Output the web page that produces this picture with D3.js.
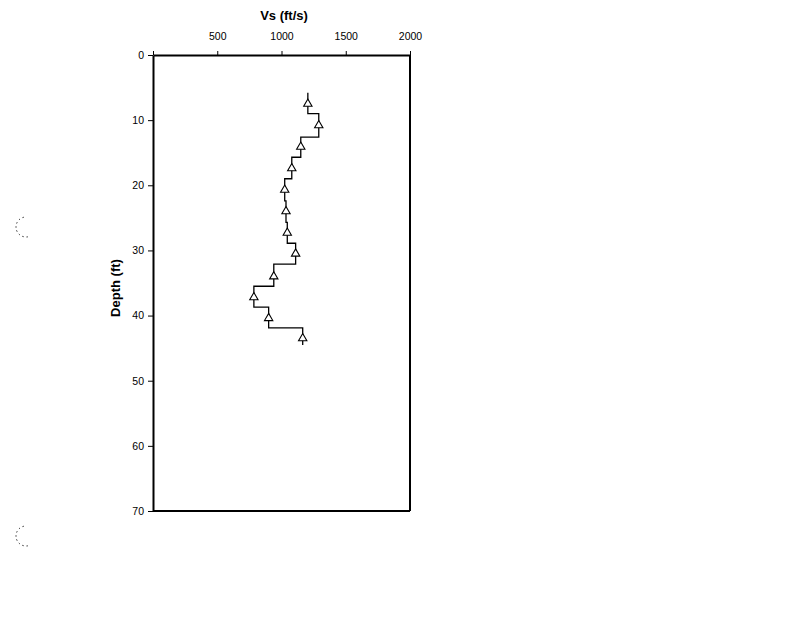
<!DOCTYPE html>
<html lang="en">
<head>
<meta charset="UTF-8">
<script src="https://d3js.org/d3.v7.min.js"></script>
<title>Vs profile</title>
<style>
  body { margin: 0; background: #fff; }
  svg text { font-family: "Liberation Sans", Arial, sans-serif; fill: #000; }
</style>
</head>
<body>
<div id="chart"></div>
<script>
// layer tops (ft) and shear wave velocity of each layer (ft/s)
var layerTops = [5.8, 9.0, 12.6, 15.7, 19.0, 22.4, 25.7, 28.9, 32.1, 35.5, 38.7, 41.9];
var layerBottom = 44.5;
var layerVs = [1205, 1290, 1150, 1080, 1025, 1035, 1045, 1110, 940, 785, 900, 1165];
// measurement depths (triangles)
var pointDepth = [7.5, 10.8, 14.1, 17.4, 20.7, 24.0, 27.3, 30.5, 34.0, 37.2, 40.4, 43.5];
var xTicks = [0, 500, 1000, 1500, 2000];
var yTicks = [0, 10, 20, 30, 40, 50, 60, 70];

var W = 800, H = 618;
var svg = d3.select("#chart").append("svg")
    .attr("width", W).attr("height", H);

var x = d3.scaleLinear().domain([0, 2000]).range([153, 410]);
var y = d3.scaleLinear().domain([0, 70]).range([55, 511]);

// frame (right and bottom edges)
svg.append("line").attr("x1", x(2000)).attr("x2", x(2000)).attr("y1", y(0)).attr("y2", y(70))
    .attr("stroke", "#000").attr("stroke-width", 2);
svg.append("line").attr("x1", x(0)).attr("x2", x(2000)).attr("y1", y(70)).attr("y2", y(70))
    .attr("stroke", "#000").attr("stroke-width", 2);

// top axis
var xAxis = svg.append("g")
    .attr("transform", "translate(0," + y(0) + ")")
    .call(d3.axisTop(x).tickValues(xTicks).tickSize(4).tickSizeOuter(0)
        .tickFormat(function(d) { return d === 0 ? "" : d; }));
xAxis.select(".domain").attr("stroke-width", 2);
xAxis.selectAll("text").attr("font-size", 10.5).attr("y", -15).attr("dy", 0);

// left axis
var yAxis = svg.append("g")
    .attr("transform", "translate(" + x(0) + ",0)")
    .call(d3.axisLeft(y).tickValues(yTicks).tickSize(5).tickSizeOuter(0));
yAxis.select(".domain").attr("stroke-width", 2);
yAxis.selectAll("text").attr("font-size", 10.5).attr("x", -9);

// axis titles
svg.append("text").attr("x", 284).attr("y", 20)
    .attr("text-anchor", "middle").attr("font-size", 13).attr("font-weight", "bold")
    .text("Vs (ft/s)");
svg.append("text")
    .attr("transform", "translate(120,288) rotate(-90)")
    .attr("text-anchor", "middle").attr("font-size", 13).attr("font-weight", "bold")
    .text("Depth (ft)");

// stepped profile
var steps = [];
layerVs.forEach(function(v, i) {
    var bottom = i < layerVs.length - 1 ? layerTops[i + 1] : layerBottom;
    steps.push([v, layerTops[i]]);
    steps.push([v, bottom]);
});
svg.append("path")
    .datum(steps)
    .attr("fill", "none").attr("stroke", "#000").attr("stroke-width", 1.3)
    .attr("d", d3.line().x(function(d) { return x(d[0]); }).y(function(d) { return y(d[1]); }));

// triangles
svg.selectAll(".tri")
    .data(layerVs)
    .enter().append("path")
    .attr("class", "tri")
    .attr("transform", function(d, i) { return "translate(" + x(d) + "," + y(pointDepth[i]) + ")"; })
    .attr("d", d3.symbol().type(d3.symbolTriangle).size(30))
    .attr("fill", "#fff").attr("stroke", "#000").attr("stroke-width", 1.1);

// scanned punch-hole marks at left margin
[[26, 227], [26, 536]].forEach(function(c) {
    var p = d3.path();
    p.arc(c[0], c[1], 10, 80 * Math.PI / 180, 265 * Math.PI / 180);
    svg.append("path").attr("d", p.toString())
        .attr("fill", "none").attr("stroke", "#000").attr("stroke-width", 1)
        .attr("stroke-dasharray", "1.2,3");
});
</script>
</body>
</html>
